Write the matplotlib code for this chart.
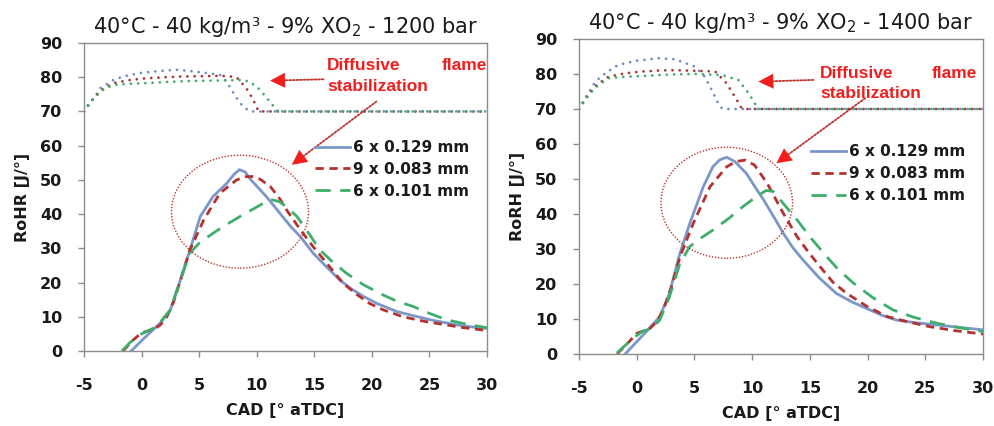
import matplotlib
matplotlib.use("Agg")
import matplotlib.pyplot as plt
from matplotlib.patches import Ellipse, FancyArrowPatch

# ---------------- data ----------------
titles = ["40°C - 40 kg/m³ - 9% XO$_2$ - 1200 bar",
          "40°C - 40 kg/m³ - 9% XO$_2$ - 1400 bar"]
ylabels = ["RoHR [J/°]", "RoRH [J/°]"]
xlabel = "CAD [° aTDC]"
series_names = ["6 x 0.129 mm", "9 x 0.083 mm", "6 x 0.101 mm"]
xticks = [-5, 0, 5, 10, 15, 20, 25, 30]
yticks = [0, 10, 20, 30, 40, 50, 60, 70, 80, 90]

# ---- 1200 bar: rate of heat release ----
l_blue_x = [-0.9, 0, 1.0, 1.6, 2.5, 3.3, 4.2, 5.1, 6.2, 7.4, 8.0, 8.5, 9.0, 9.5, 10.3, 11.0, 12.0,
            13.0, 13.8, 14.9, 16.0, 17.2, 18.2, 19.3, 20.5, 22.2, 23.5, 25.1, 26.5, 27.4, 28.5, 30]
l_blue_y = [0, 3, 6.2, 8.1, 12, 20, 29.5, 39.3, 45.1, 49, 51.5, 53, 52.3, 50, 47.1, 44.5, 40.3,
            36.2, 33.4, 28.6, 24.8, 20.8, 18.2, 15.9, 13.8, 11.5, 10.4, 9.1, 8.2, 7.6, 7.1, 6.6]
l_red_x = [-1.6, -0.8, 0, 1, 1.6, 2.2, 2.8, 3.3, 4.2, 5.4, 6.8, 8.26, 9.0, 9.6, 10.3, 11.2, 12.0,
           12.6, 13.8, 14.9, 16.0, 17.5, 18.7, 19.8, 21.0, 22.7, 24.5, 26.5, 28.0, 30]
l_red_y = [0, 3, 5.3, 6.3, 7.5, 10, 14.5, 19.8, 29.5, 38.3, 46.1, 50, 50.9, 51, 50.2, 48, 44.5,
           41.2, 35.4, 30.5, 26, 19.8, 16.5, 13.9, 12, 10, 8.7, 7.6, 6.8, 6.0]
l_green_x = [-1.7, -1, 0, 1.3, 2.5, 3.3, 4.2, 5.0, 6.2, 7.4, 8.55, 9.6, 10.6, 11.2, 12.0, 12.8,
             13.5, 14.5, 15.5, 16.6, 17.8, 19.2, 20.7, 22.2, 23.6, 25.0, 26.5, 28, 30]
l_green_y = [0, 2.5, 5, 7.1, 12, 20, 28.6, 31.5, 34.4, 37, 39.3, 41.3, 43.2, 44.3, 43.6, 41.5,
             39.3, 34.5, 29.5, 26, 22.7, 19.5, 16.8, 14.5, 13, 11, 9.1, 8, 6.8]
# dotted (flame stabilization) curves, 1200 bar
l_dblue_x = [-5, -4.5, -4, -3.6, -3, -2.45, -1.5, 0, 1.5, 3, 4.5, 5.7, 6.8, 7.4, 8.0, 8.55, 9.3, 9.5, 30]
l_dblue_y = [70, 72.5, 74.5, 76.8, 78, 79.2, 80.3, 81.3, 81.8, 82.2, 81.7, 81.2, 80.7, 78.7, 75.3, 72.4, 70.2, 70, 70]
l_dred_x = [-5, -4.5, -4, -3.5, -2.45, -1, 0.45, 2, 3.34, 5, 6.8, 7.6, 8.27, 9.1, 9.7, 10.1, 10.3, 30]
l_dred_y = [70, 72.5, 74.5, 76.2, 78.3, 79.2, 79.7, 80, 80.2, 80.3, 80.4, 80.3, 79.9, 76.8, 73.4, 70.5, 70, 70]
l_dgreen_x = [-5, -4.5, -4, -3.5, -2.45, -1, 0.45, 2, 4.2, 6, 7.5, 8.55, 9.3, 10, 10.9, 11.7, 11.9, 30]
l_dgreen_y = [70, 72.4, 74.3, 76, 77.8, 78.1, 78.3, 78.6, 78.9, 79, 79.1, 79.2, 78.8, 77.3, 73.9, 70.5, 70, 70]

# ---- 1400 bar ----
r_blue_x = [-1.0, 0, 1, 2.0, 2.8, 3.75, 4.6, 5.77, 6.6, 7.2, 7.8, 8.5, 9.5, 10.2, 11.0, 12.0, 12.7,
            13.5, 14.4, 15.8, 17.3, 18.7, 20.2, 21.3, 22.5, 24, 26, 28, 30]
r_blue_y = [0, 3.5, 7, 10.7, 17, 28.8, 37.3, 47.8, 53.5, 55.5, 56.2, 55, 51.6, 48, 44, 38.5, 34.5,
            30.5, 26.9, 21.8, 17.3, 14.8, 12.6, 11, 9.7, 9, 8.3, 7.6, 6.9]
r_red_x = [-1.7, -0.8, 0, 1.15, 1.8, 2.3, 3.0, 3.75, 4.9, 6.35, 7.8, 8.6, 9.4, 10.2, 11.3, 12.0, 12.7,
           13.9, 14.9, 15.9, 17, 18.2, 20, 21.7, 23.5, 25.4, 27.5, 30]
r_red_y = [0, 3, 5.9, 7.3, 9.5, 12.6, 19, 27.8, 37.3, 47.8, 53.5, 55, 55.4, 54, 48.8, 44.5, 40.2,
           33.5, 29, 24.9, 20.5, 17.3, 13.5, 10.7, 9.2, 7.8, 6.7, 5.7]
r_green_x = [-1.7, -0.5, 0.5, 1.3, 2.0, 2.8, 3.75, 4.6, 5.5, 6.6, 8.0, 9.2, 10.3, 11.2, 11.8, 12.7,
             13.9, 15.0, 16.2, 17.5, 18.8, 20.5, 22.2, 24, 26, 28, 30]
r_green_y = [0.3, 4, 6.5, 7.3, 9.7, 16, 25.9, 30.7, 33, 35.4, 38.8, 42.1, 44.8, 46.7, 46.5, 43,
             38.3, 33.5, 28.8, 24, 20.2, 16, 12.6, 10.5, 8.8, 7.5, 6.4]
r_dblue_x = [-5, -4.5, -4, -3.6, -2.6, -1.6, 0, 1.87, 3.3, 4.3, 5.05, 5.9, 6.5, 7.0, 7.37, 7.5, 30]
r_dblue_y = [70, 73, 75.5, 77.8, 80.5, 82.6, 83.8, 84.5, 84.2, 83, 82.1, 79.2, 75.4, 72, 70.2, 70, 70]
r_dred_x = [-5, -4.5, -4, -3.5, -2.46, -1, 0.43, 2, 3.3, 5, 6.8, 7.8, 8.5, 9.1, 9.3, 30]
r_dred_y = [70, 72.5, 74.8, 76.8, 79.2, 80.2, 80.7, 81, 81.1, 80.9, 80.7, 77.3, 73.5, 70.2, 70, 70]
r_dgreen_x = [-5, -4.5, -4, -3.5, -2.46, -1, 0.43, 2, 3.3, 5, 7.37, 8.8, 9.7, 10.4, 10.6, 30]
r_dgreen_y = [70, 72.5, 74.6, 76.3, 78.8, 79.2, 79.4, 79.7, 79.9, 80, 79.7, 78.3, 74.5, 70.7, 70, 70]

panels = [
    dict(solid=[(l_blue_x, l_blue_y), (l_red_x, l_red_y), (l_green_x, l_green_y)],
         dotted=[(l_dblue_x, l_dblue_y), (l_dred_x, l_dred_y), (l_dgreen_x, l_dgreen_y)],
         rect=[0.0844, 0.1761, 0.4050, 0.7229],
         ell=(8.55, 40.7, 11.9, 33.0),
         txt=(16.1, 30.0, 83.5, 77.3),
         arr1=((15.8, 79.4), (11.16, 79.0)),
         arr2=((20.4, 72.9), (13.05, 54.4)),
         leg=(0.555, 0.71)),
    dict(solid=[(r_blue_x, r_blue_y), (r_red_x, r_red_y), (r_green_x, r_green_y)],
         dotted=[(r_dblue_x, r_dblue_y), (r_dred_x, r_dred_y), (r_dgreen_x, r_dgreen_y)],
         rect=[0.5819, 0.1690, 0.4060, 0.7395],
         ell=(7.8, 43.2, 11.4, 31.7),
         txt=(15.9, 29.5, 80.2, 74.5),
         arr1=((15.3, 78.3), (10.54, 77.8)),
         arr2=((19.8, 73.1), (12.1, 54.5)),
         leg=(0.555, 0.69)),
]

# ---------------- style ----------------
colors = ["#7b97c9", "#b3322f", "#3fae6b"]
dot_colors = ["#6f8fc4", "#a83532", "#45aa6c"]
red_txt = "#f21d1d"
spine_c = "#8c8c8c"

fig = plt.figure(figsize=(9.95, 4.26), dpi=100)

for i, p in enumerate(panels):
    ax = fig.add_axes(p["rect"])
    # dotted top curves
    for (x, y), c in zip(p["dotted"], dot_colors):
        ax.plot(x, y, color=c, lw=2.0, linestyle=(0, (0.01, 2.6)),
                dash_capstyle="round", zorder=2)
    # main curves
    styles = ["-", (0, (3.0, 2.0)), (0, (5.5, 3.4))]
    lines = []
    for (x, y), c, ls, name in zip(p["solid"], colors, styles, series_names):
        ln, = ax.plot(x, y, color=c, lw=2.0, linestyle=ls, label=name, zorder=3)
        lines.append(ln)

    ax.set_xlim(-5, 30)
    ax.set_ylim(0, 90)
    ax.set_xticks(xticks)
    ax.set_yticks(yticks)
    ax.set_xticklabels([str(t) for t in xticks])
    ax.set_yticklabels([str(t) for t in yticks])
    for s in ax.spines.values():
        s.set_color(spine_c)
        s.set_linewidth(1.0)
    ax.tick_params(axis="both", direction="out", length=4.5, width=1.0, color=spine_c,
                   labelsize=11.5, labelcolor="#1a1a1a")
    ax.tick_params(axis="x", pad=15)
    ax.tick_params(axis="y", pad=11)
    for lab in ax.get_xticklabels() + ax.get_yticklabels():
        lab.set_fontweight("bold")
    ax.set_xlabel(xlabel, fontsize=11.5, fontweight="bold", color="#1a1a1a", labelpad=7)
    ax.set_ylabel(ylabels[i], fontsize=11.5, fontweight="bold", color="#1a1a1a", labelpad=7)
    ax.set_title(titles[i], fontsize=15, color="#1a1a1a", pad=7)

    leg = ax.legend(handles=lines, loc="upper left", bbox_to_anchor=p["leg"], frameon=False,
                    prop=dict(size=11, weight="bold"), handlelength=2.3,
                    handletextpad=0.2, labelspacing=0.45, borderpad=0.0)
    for t in leg.get_texts():
        t.set_color("#1a1a1a")

    # ellipse
    ex, ey, ew, eh = p["ell"]
    ax.add_patch(Ellipse((ex, ey), ew, eh, fill=False, edgecolor="#c0302c", lw=1.0,
                         linestyle=(0, (1, 1.2)), zorder=4))
    # annotation text
    tx0, tx1, ty0, ty1 = p["txt"]
    tfont = dict(family="Liberation Sans", weight="bold", size=12.5, color=red_txt)
    ax.text(tx0, ty0, "Diffusive", ha="left", va="center", **tfont)
    ax.text(tx1, ty0, "flame", ha="right", va="center", clip_on=False, **tfont)
    ax.text(tx0, ty1, "stabilization", ha="left", va="center", **tfont)
    # arrows
    for (tail, head) in (p["arr1"], p["arr2"]):
        ax.add_patch(FancyArrowPatch(tail, head, arrowstyle="-", color="#c0302c", lw=1.3,
                                     linestyle=(0, (1, 1)), shrinkA=0, shrinkB=6, zorder=5))
        ax.add_patch(FancyArrowPatch(tail, head, arrowstyle="-|>,head_length=0.9,head_width=0.45",
                                     color=red_txt, lw=0, shrinkA=0, shrinkB=0,
                                     mutation_scale=12, zorder=5))

fig.savefig("out.png", dpi=100)
